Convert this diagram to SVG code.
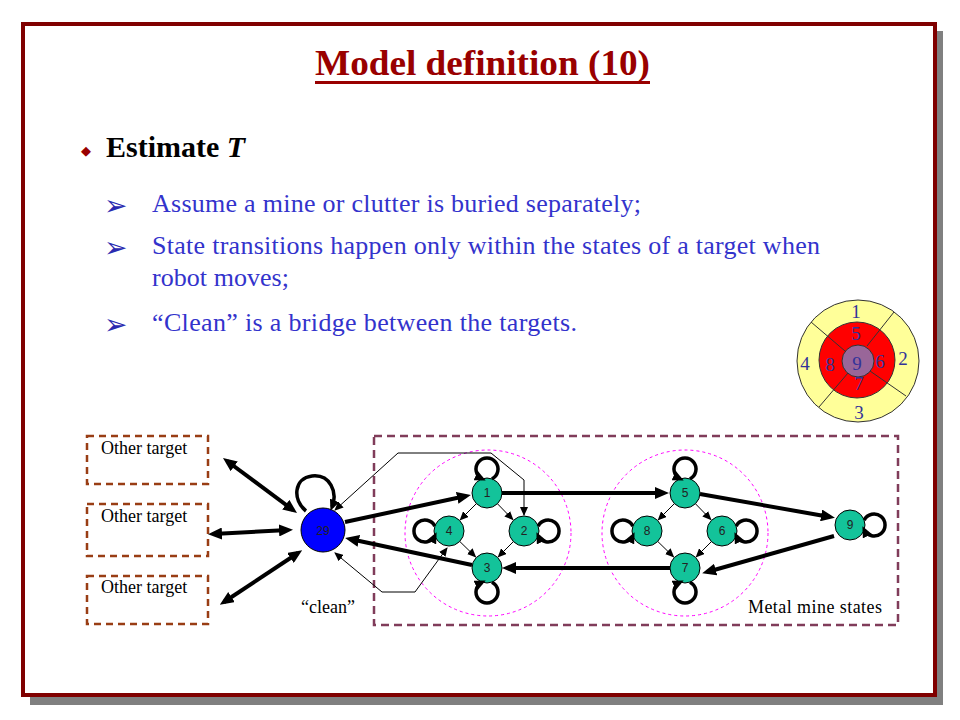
<svg xmlns="http://www.w3.org/2000/svg" width="960" height="720" viewBox="0 0 960 720">
<defs>
<style>
.node{fill:#13c39a;stroke:#000;stroke-width:1}
.nl{font-family:"Liberation Sans",Arial,sans-serif;font-size:12px;fill:#222;text-anchor:middle}
.thick{fill:none;stroke:#000;stroke-width:4}
.loop{fill:none;stroke:#000;stroke-width:3.5}
.thin{fill:none;stroke:#000;stroke-width:1}
.serif{font-family:"Liberation Serif","Times New Roman",serif}
.bul{font-family:"Liberation Serif","Times New Roman",serif;font-size:26px;fill:#3333cc}
.arr{font-family:"DejaVu Sans",sans-serif;font-size:28px;fill:#2a2ab0}
.disc{font-family:"Liberation Serif","Times New Roman",serif;font-size:19px;fill:#333399;text-anchor:middle}
.ot{font-family:"Liberation Serif","Times New Roman",serif;font-size:18px;fill:#000}
</style>
<marker id="ah" markerUnits="userSpaceOnUse" markerWidth="14" markerHeight="12" refX="9" refY="6" orient="auto-start-reverse">
<path d="M0,0 L14,6 L0,12 z" fill="#000"/>
</marker>
<marker id="al" markerUnits="userSpaceOnUse" markerWidth="11" markerHeight="10" refX="7" refY="5" orient="auto-start-reverse">
<path d="M0,0 L11,5 L0,10 z" fill="#000"/>
</marker>
<marker id="at" markerUnits="userSpaceOnUse" markerWidth="9" markerHeight="8" refX="8" refY="4" orient="auto-start-reverse">
<path d="M0,0 L9,4 L0,8 z" fill="#000"/>
</marker>
</defs>

<rect x="0" y="0" width="960" height="720" fill="#fff"/>
<g id="frame">
<rect x="30" y="31" width="913" height="674" fill="#808080"/>
<rect x="23" y="24" width="912" height="671" fill="#fff" stroke="#800000" stroke-width="4"/>
</g>

<g id="title">
<text x="315" y="75" class="serif" font-size="36" font-weight="bold" fill="#990000" textLength="335" lengthAdjust="spacingAndGlyphs">Model definition (10)</text>
<rect x="315" y="81" width="335" height="3" fill="#990000"/>
</g>

<g id="bullets">
<text x="86" y="155" font-family="DejaVu Sans,sans-serif" font-size="13" fill="#990000" text-anchor="middle">◆</text>
<text x="106" y="157" class="serif" font-size="30" font-weight="bold" fill="#000">Estimate <tspan font-style="italic">T</tspan></text>
<text x="104" y="215" class="arr">➢</text>
<text x="152" y="212" class="bul" textLength="489">Assume a mine or clutter is buried separately;</text>
<text x="104" y="257" class="arr">➢</text>
<text x="152" y="254" class="bul" textLength="668">State transitions happen only within the states of a target when</text>
<text x="152" y="286" class="bul" textLength="137">robot moves;</text>
<text x="104" y="334" class="arr">➢</text>
<text x="152" y="331" class="bul" textLength="425">“Clean” is a bridge between the targets.</text>
</g>

<g id="target-disc">
<circle cx="858" cy="361" r="61" fill="#ffff99" stroke="#333" stroke-width="1"/>
<circle cx="857" cy="360" r="38" fill="#ff0000" stroke="#333" stroke-width="1"/>
<line x1="811" y1="322" x2="845" y2="351" stroke="#333" stroke-width="1"/>
<line x1="894" y1="312" x2="867" y2="346" stroke="#333" stroke-width="1"/>
<line x1="819" y1="407" x2="848" y2="373" stroke="#333" stroke-width="1"/>
<line x1="906" y1="396" x2="870" y2="371" stroke="#333" stroke-width="1"/>
<circle cx="858" cy="361" r="16" fill="#996699" stroke="#333" stroke-width="1"/>
<text x="856" y="318" class="disc">1</text>
<text x="856" y="340" class="disc">5</text>
<text x="805" y="370" class="disc">4</text>
<text x="830" y="371" class="disc">8</text>
<text x="857" y="370" class="disc">9</text>
<text x="880" y="368" class="disc">6</text>
<text x="903" y="365" class="disc">2</text>
<text x="859" y="390" class="disc">7</text>
<text x="859" y="419" class="disc">3</text>
</g>

<g id="boxes">
<g id="other-target-1">
<rect x="87" y="436" width="121" height="48" fill="none" stroke="#993d14" stroke-width="2.5" stroke-dasharray="7,5"/>
<text x="101" y="454" class="ot">Other target</text>
</g>
<g id="other-target-2">
<rect x="87" y="504" width="121" height="52" fill="none" stroke="#993d14" stroke-width="2.5" stroke-dasharray="7,5"/>
<text x="101" y="522" class="ot">Other target</text>
</g>
<g id="other-target-3">
<rect x="87" y="576" width="121" height="48" fill="none" stroke="#993d14" stroke-width="2.5" stroke-dasharray="7,5"/>
<text x="101" y="593" class="ot">Other target</text>
</g>
<g id="metal-mine-box">
<rect x="374" y="436" width="524" height="189" fill="none" stroke="#803c5a" stroke-width="2.5" stroke-dasharray="8,5"/>
<text x="748" y="613" class="ot" textLength="134">Metal mine states</text>
</g>
<circle cx="488" cy="533" r="83" fill="none" stroke="#ff00ff" stroke-width="1" stroke-dasharray="3,3"/>
<circle cx="685" cy="533" r="83" fill="none" stroke="#ff00ff" stroke-width="1" stroke-dasharray="3,3"/>
</g>

<g id="nodes">
<g id="n29"><circle cx="323" cy="530" r="22" fill="#0000ff" stroke="#000" stroke-width="1"/><text x="323" y="535" class="nl" font-size="14" fill="#000080">29</text></g>
<text x="301" y="613" class="ot">“clean”</text>
<g id="n1"><circle cx="487" cy="493" r="15" class="node"/><text x="487" y="497" class="nl">1</text></g>
<g id="n4"><circle cx="449" cy="531" r="15" class="node"/><text x="449" y="535" class="nl">4</text></g>
<g id="n2"><circle cx="524" cy="531" r="15" class="node"/><text x="524" y="535" class="nl">2</text></g>
<g id="n3"><circle cx="487" cy="568" r="15" class="node"/><text x="487" y="572" class="nl">3</text></g>
<g id="n5"><circle cx="685" cy="493" r="15" class="node"/><text x="685" y="497" class="nl">5</text></g>
<g id="n8"><circle cx="647" cy="531" r="15" class="node"/><text x="647" y="535" class="nl">8</text></g>
<g id="n6"><circle cx="722" cy="531" r="15" class="node"/><text x="722" y="535" class="nl">6</text></g>
<g id="n7"><circle cx="685" cy="568" r="15" class="node"/><text x="685" y="572" class="nl">7</text></g>
<g id="n9"><circle cx="850" cy="525" r="15" class="node"/><text x="850" y="529" class="nl">9</text></g>
</g>

<g id="connectors">
<line x1="227" y1="461" x2="293" y2="510" class="thick" marker-start="url(#ah)" marker-end="url(#ah)"/>
<line x1="213" y1="534" x2="288" y2="530" class="thick" marker-start="url(#ah)" marker-end="url(#ah)"/>
<line x1="224" y1="602" x2="298" y2="553" class="thick" marker-start="url(#ah)" marker-end="url(#ah)"/>
<path d="M306,511 C292,500 294,478 312,476 C330,474 338,492 332,507" class="loop" marker-end="url(#al)"/>
<line x1="345" y1="522" x2="466" y2="496" class="thick" marker-end="url(#ah)"/>
<line x1="472" y1="565" x2="350" y2="539" class="thick" marker-end="url(#ah)"/>
<line x1="502" y1="493" x2="664" y2="493" class="thick" marker-end="url(#ah)"/>
<line x1="670" y1="568" x2="507" y2="568" class="thick" marker-end="url(#ah)"/>
<line x1="700" y1="494" x2="830" y2="517" class="thick" marker-end="url(#ah)"/>
<line x1="834" y1="536" x2="707" y2="572" class="thick" marker-end="url(#ah)"/>
<line x1="476.4" y1="503.6" x2="460.3" y2="519.7" class="thin" marker-end="url(#at)"/>
<line x1="497.5" y1="503.8" x2="512.8" y2="519.5" class="thin" marker-end="url(#at)"/>
<line x1="459.8" y1="541.5" x2="475.5" y2="556.8" class="thin" marker-end="url(#at)"/>
<line x1="513.4" y1="541.6" x2="498.3" y2="556.7" class="thin" marker-end="url(#at)"/>
<line x1="674.4" y1="503.6" x2="658.3" y2="519.7" class="thin" marker-end="url(#at)"/>
<line x1="695.5" y1="503.8" x2="710.8" y2="519.5" class="thin" marker-end="url(#at)"/>
<line x1="657.8" y1="541.5" x2="673.5" y2="556.8" class="thin" marker-end="url(#at)"/>
<line x1="711.4" y1="541.6" x2="696.3" y2="556.7" class="thin" marker-end="url(#at)"/>
<path d="M335,510 L398,453 L491,453 L524,480 L524,515" class="thin" marker-start="url(#at)" marker-end="url(#at)"/>
<path d="M335,553 L382,592 L415,592 L447,548" class="thin" marker-start="url(#at)" marker-end="url(#at)"/>
<path d="M491.9,478.8 A11 11 0 1 0 482.1,478.8" class="loop" marker-end="url(#al)"/>
<path d="M434.8,526.1 A11 11 0 1 0 434.8,535.9" class="loop" marker-end="url(#al)"/>
<path d="M538.2,526.1 A11 11 0 1 1 538.2,535.9" class="loop" marker-end="url(#al)"/>
<path d="M491.9,582.2 A11 11 0 1 1 482.1,582.2" class="loop" marker-end="url(#al)"/>
<path d="M689.9,478.8 A11 11 0 1 0 680.1,478.8" class="loop" marker-end="url(#al)"/>
<path d="M632.8,526.1 A11 11 0 1 0 632.8,535.9" class="loop" marker-end="url(#al)"/>
<path d="M736.2,526.1 A11 11 0 1 1 736.2,535.9" class="loop" marker-end="url(#al)"/>
<path d="M689.9,582.2 A11 11 0 1 1 680.1,582.2" class="loop" marker-end="url(#al)"/>
<path d="M864.2,520.1 A11 11 0 1 1 864.2,529.9" class="loop" marker-end="url(#al)"/>
</g>
</svg>
